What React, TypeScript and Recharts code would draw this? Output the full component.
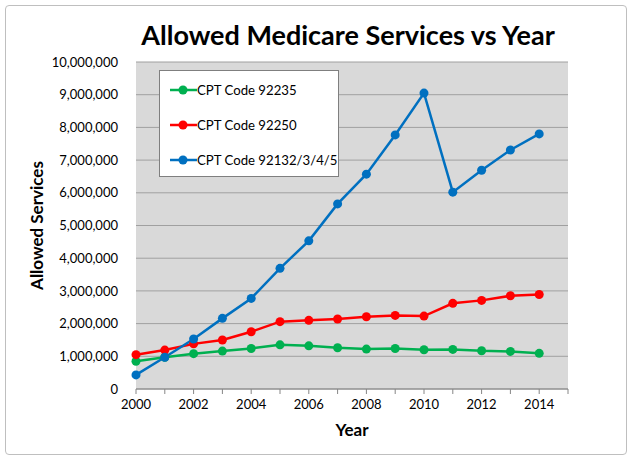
import React from 'react';
import { LineChart, Line, XAxis, YAxis, CartesianGrid, Legend } from 'recharts';

const years = [2000, 2001, 2002, 2003, 2004, 2005, 2006, 2007, 2008, 2009, 2010, 2011, 2012, 2013, 2014];
const cpt92235 = [850000, 970000, 1080000, 1160000, 1240000, 1350000, 1320000, 1260000, 1220000, 1240000, 1200000, 1210000, 1170000, 1150000, 1090000];
const cpt92250 = [1050000, 1190000, 1380000, 1500000, 1750000, 2060000, 2100000, 2140000, 2210000, 2250000, 2230000, 2620000, 2710000, 2850000, 2890000];
const cpt92132 = [430000, 970000, 1530000, 2160000, 2770000, 3690000, 4530000, 5660000, 6570000, 7770000, 9050000, 6020000, 6690000, 7310000, 7800000];

const xTicks = [2000, 2001, 2002, 2003, 2004, 2005, 2006, 2007, 2008, 2009, 2010, 2011, 2012, 2013, 2014, 2015];
const yTicks = [0, 1000000, 2000000, 3000000, 4000000, 5000000, 6000000, 7000000, 8000000, 9000000, 10000000];

const series = [
  { key: 'a', name: 'CPT Code 92235', color: '#00B050' },
  { key: 'b', name: 'CPT Code 92250', color: '#FF0000' },
  { key: 'c', name: 'CPT Code 92132/3/4/5', color: '#0070C0' },
];

const data = years.map((y, i) => ({ year: y, a: cpt92235[i], b: cpt92250[i], c: cpt92132[i] }));

const font = 'Lato, "Open Sans", sans-serif';

function LegendBox() {
  return (
    <div style={{ width: 180, height: 107, background: '#fff', border: '1px solid #7f7f7f', boxSizing: 'border-box', paddingTop: 1 }}>
      {series.map((s) => (
        <div key={s.key} style={{ display: 'flex', alignItems: 'center', height: 35, paddingLeft: 10, whiteSpace: 'nowrap' }}>
          <svg width={27} height={12}>
            <line x1={0} y1={6} x2={27} y2={6} stroke={s.color} strokeWidth={2.5} />
            <circle cx={13} cy={6} r={4.5} fill={s.color} />
          </svg>
          <span style={{ fontFamily: font, fontSize: 13.2, color: '#000' }}>{s.name}</span>
        </div>
      ))}
    </div>
  );
}

export default function App() {
  return (
    <div style={{ position: 'absolute', left: 0, top: 0, width: 632, height: 461, background: '#fff' }}>
      <div style={{ position: 'absolute', left: 5, top: 5, width: 620, height: 448, border: '1px solid #BFBFBF', borderRadius: 4 }} />
      <div style={{ position: 'absolute', left: 0, top: 18, width: 632, textAlign: 'center', paddingLeft: 64, boxSizing: 'border-box', fontFamily: font, fontWeight: 'bold', fontSize: 27, color: '#000' }}>
        Allowed Medicare Services vs Year
      </div>
      <div style={{ position: 'absolute', left: 0, top: 0 }}>
        <LineChart width={632} height={461} data={data} margin={{ top: 62, right: 64, bottom: 0, left: 0 }}>
          <CartesianGrid vertical={false} fill="#D9D9D9" stroke="#A0A0A0" strokeWidth={1} yAxisId="l" />
          <XAxis
            dataKey="year"
            type="number"
            domain={[2000, 2015]}
            ticks={xTicks}
            interval={0}
            tickFormatter={(v: number) => (v % 2 === 0 && v < 2015 ? String(v) : '')}
            stroke="#868686"
            tickSize={5}
            tick={{ fill: '#000', fontSize: 13, fontFamily: font }}
            tickMargin={6}
            height={72}
            label={{ value: 'Year', position: 'insideTop', offset: 35, fill: '#000', fontSize: 17, fontWeight: 'bold', fontFamily: font }}
          />
          <YAxis
            yAxisId="l"
            domain={[0, 10000000]}
            ticks={yTicks}
            interval={0}
            axisLine={false}
            tickLine={false}
            tickMargin={12}
            width={136}
            tickFormatter={(v: number) => v.toLocaleString('en-US')}
            tick={{ fill: '#000', fontSize: 13, fontFamily: font }}
            label={{ value: 'Allowed Services', angle: -90, position: 'insideLeft', offset: 37, fill: '#000', fontSize: 17, fontWeight: 'bold', fontFamily: font, style: { textAnchor: 'middle' } }}
          />
          <YAxis yAxisId="r" orientation="right" domain={[0, 10000000]} tick={false} tickLine={false} width={0} stroke="#595959" />
          <Legend
            content={() => <LegendBox />}
            layout="horizontal"
            verticalAlign="middle"
            align="center"
            wrapperStyle={{ left: 159, top: 70, width: 180 }}
          />
          {series.map((s) => (
            <Line
              key={s.key}
              yAxisId="l"
              dataKey={s.key}
              name={s.name}
              stroke={s.color}
              strokeWidth={2.5}
              dot={{ r: 4.5, fill: s.color, stroke: s.color, strokeWidth: 0 }}
              isAnimationActive={false}
            />
          ))}
        </LineChart>
      </div>
    </div>
  );
}
